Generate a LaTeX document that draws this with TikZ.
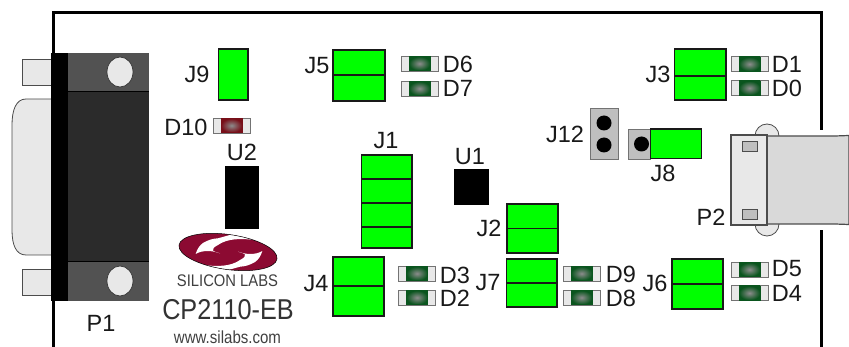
\documentclass[tikz,border=0pt]{standalone}
\usepackage{fontspec}
\setmainfont{Liberation Sans}
\definecolor{jgreen}{RGB}{0,255,0}
\definecolor{ledg}{RGB}{10,85,30}
\definecolor{ledr}{RGB}{120,15,25}
\definecolor{lg}{RGB}{232,232,232}
\definecolor{maroon}{RGB}{140,10,50}
\tikzset{
  lbl/.style={inner sep=0pt,font=\fontsize{23.5}{24}\selectfont,text=black!90},
  jbox/.style={draw=black!90,line width=1.9pt,fill=jgreen},
  padbox/.style={draw=black!55,line width=0.8pt,fill=black!25},
  shellp/.style={draw=black!70,line width=0.8pt,fill=lg}
}
\newcommand{\jumper}[5]{% x1 y1 x2 y2, list of dividers
  \draw[jbox] (#1,#2) rectangle (#3,#4);
  \foreach \d in {#5} {\draw[draw=black!90,line width=1.9pt] (#1,\d) -- (#3,\d);}
}
\newcommand{\ledpart}[4]{% x y color name
  \draw[draw=black!55,line width=0.7pt,fill=lg] (#1,#2) rectangle ++(37,15);
  \shade[inner color=black!45,outer color=#3] (#1+8,#2+0.5) rectangle ++(21,14);
  \draw[#3,line width=0.6pt] (#1+8,#2+0.5) rectangle ++(21,14);
}
\newcommand{\swoosh}{(195.7,254) .. controls (197,249) and (200,245) .. (203,243)
  .. controls (208,240) and (213,238.5) .. (218,238.3) -- (262,226) -- (290,238) -- (276.7,245)
  .. controls (270,242) and (264,241) .. (258,240.7)
  .. controls (250,239) and (243,239) .. (235,239.3)
  .. controls (228,240) and (222,242) .. (218,245)
  .. controls (214,247) and (212,249) .. (213,250.7)
  .. controls (215,252) and (218,253) .. (220,253.3)
  .. controls (216,252) and (212,251) .. (208,251)
  .. controls (203,251) and (199,252) .. (195.7,254) -- cycle}
\begin{document}
\begin{tikzpicture}[x=1pt,y=-1pt]
\useasboundingbox (0,0) rectangle (849,347);
\fill[white] (0,0) rectangle (849,347);
% board
\draw[line width=3pt,black] (53,347) -- (53,13) -- (821,13) -- (821,347);
% P1
\draw[shellp] (22,59) rectangle (51,85);
\draw[shellp] (22,269) rectangle (51,295);
\draw[shellp] (51,99) -- (26,99) .. controls (16,99) and (12,110) .. (12,125) -- (12,230) .. controls (12,245) and (16,255) .. (26,255) -- (51,255);
\fill[black!68] (68,53) rectangle (149,301);
\fill[black!83] (68,91) rectangle (149,261);
\draw[black,line width=0.4pt] (68,91) -- (149,91) (68,261) -- (149,261);
\fill[black] (51,53) rectangle (68,301);
\draw[black!80,fill=lg,line width=0.7pt] (120,72) ellipse (13 and 15);
\draw[black!80,fill=lg,line width=0.7pt] (120,281) ellipse (13 and 15);
% P2
\fill[white] (815,130) rectangle (827,230);
\draw[draw=black!70,line width=0.8pt,fill=lg] (767,136) circle (12);
\draw[draw=black!70,line width=0.8pt,fill=lg] (767,224) circle (12);
\draw[draw=black!70,line width=1.2pt,fill=black!15] (767,136) -- (835,136) -- (849,135.5) -- (849,224.5) -- (835,224) -- (767,224) -- cycle;
\draw[draw=black!70,line width=1.2pt,fill=lg] (731,135) rectangle (767,225);
\draw[draw=black!70,line width=0.8pt,fill=black!25] (742.5,141) rectangle (757,151);
\draw[draw=black!70,line width=0.8pt,fill=black!25] (742.5,209) rectangle (757,219);
% jumpers
\jumper{218.5}{49}{248}{100}{}
\jumper{333}{50}{385}{101}{75}
\jumper{674.5}{49}{726}{100}{76}
\jumper{361.5}{155}{412}{248}{179,203,227}
\jumper{333}{257}{384}{316}{286}
\jumper{507}{204}{558}{253}{228.5}
\jumper{506.5}{259}{557}{307}{283}
\jumper{672}{259}{723}{309}{284}
% J12, J8
\draw[padbox] (590.5,108.5) rectangle (618,159);
\fill[black] (604,123) circle (7.5) (604,145) circle (7.5);
\draw[padbox] (628,129) rectangle (650,159);
\fill[black] (641.5,144) circle (7.5);
\draw[jbox] (650.5,129) rectangle (701.5,158.5);
% ICs
\fill[black] (453.5,169) rectangle (489,205);
\fill[black] (225,166) rectangle (259,229);
% LEDs
\ledpart{401}{56}{ledg}{D6}
\ledpart{401}{81}{ledg}{D7}
\ledpart{731}{56.5}{ledg}{D1}
\ledpart{731}{80.5}{ledg}{D0}
\ledpart{398.5}{266}{ledg}{D3}
\ledpart{398.5}{290}{ledg}{D2}
\ledpart{563}{266}{ledg}{D9}
\ledpart{563}{290}{ledg}{D8}
\ledpart{731}{262}{ledg}{D5}
\ledpart{731}{285.5}{ledg}{D4}
\ledpart{213}{118}{ledr}{D10}
% logo
\begin{scope}
\clip[rotate around={-8:(228,252)}] (228,252) ellipse (49.5 and 17.5);
\fill[maroon] (170,225) rectangle (290,280);
\fill[white] \swoosh;
\begin{scope}[rotate around={180:(229,252.5)}]
\fill[white] \swoosh;
\end{scope}
\end{scope}
\draw[black,line width=0.5pt,rotate around={-8:(228,252)}] (228,252) ellipse (49.5 and 17.5);
\node[inner sep=0pt,font=\fontsize{16.8}{17}\selectfont,text=black!75,xscale=0.88] (sl) at (227.5,281) {SILICON LABS};
\node[inner sep=0pt,font=\fontsize{28.7}{29}\selectfont,text=black!80,xscale=0.88] (cp) at (228,310) {CP2110-EB};
\node[inner sep=0pt,font=\fontsize{17.5}{18}\selectfont,text=black!75,xscale=0.86] (www) at (227.5,337.5) {www.silabs.com};
% labels
\node[lbl] (J9) at (197,74) {J9};
\node[lbl] (D10) at (186,127) {D10};
\node[lbl] (U2) at (242,152) {U2};
\node[lbl] (J5) at (317,66) {J5};
\node[lbl] (D6) at (458,64) {D6};
\node[lbl] (D7) at (458,88) {D7};
\node[lbl] (J3) at (658,74) {J3};
\node[lbl] (D1) at (787,64) {D1};
\node[lbl] (D0) at (787,88) {D0};
\node[lbl] (J12) at (565,134) {J12};
\node[lbl] (J8) at (663,173) {J8};
\node[lbl] (P2) at (711,217) {P2};
\node[lbl] (J1) at (386,141) {J1};
\node[lbl] (U1) at (470,157) {U1};
\node[lbl] (J2) at (489,228) {J2};
\node[lbl] (J4) at (316,284) {J4};
\node[lbl] (D3) at (455,275) {D3};
\node[lbl] (D2) at (455,298) {D2};
\node[lbl] (J7) at (488,283) {J7};
\node[lbl] (D9) at (621,274) {D9};
\node[lbl] (D8) at (621,298) {D8};
\node[lbl] (J6) at (655,283) {J6};
\node[lbl] (D5) at (787,269) {D5};
\node[lbl] (D4) at (787,293) {D4};
\node[lbl] (P1) at (101,323) {P1};
\end{tikzpicture}
\end{document}
